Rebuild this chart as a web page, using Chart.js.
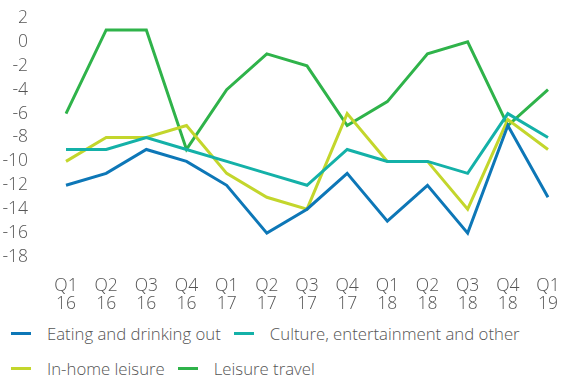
<!DOCTYPE html>
<html>
<head>
<meta charset="utf-8">
<script src="https://cdn.jsdelivr.net/npm/chart.js@4"></script>
<style>
  html, body { margin: 0; padding: 0; background: #fff; }
  #wrap { width: 568px; height: 380px; position: relative; }
  #chartBox { width: 568px; height: 315px; position: relative; }
  #legend { position: absolute; left: 11px; top: 316px; width: 557px;
    font-family: "Open Sans", sans-serif; font-weight: 300; font-size: 16.75px; color: #555; }
  .row { display: flex; height: 35px; align-items: center; white-space: nowrap; }
  .item { display: flex; align-items: center; margin-right: 13px; }
  .mark { width: 20px; height: 3px; margin-right: 16px; }
</style>
</head>
<body>
<div id="wrap">
  <div id="chartBox"><canvas id="myChart"></canvas></div>
  <div id="legend"></div>
</div>
<script>
// 四半期ラベル
const labels = [
    ['Q1', '16'], ['Q2', '16'], ['Q3', '16'], ['Q4', '16'],
    ['Q1', '17'], ['Q2', '17'], ['Q3', '17'], ['Q4', '17'],
    ['Q1', '18'], ['Q2', '18'], ['Q3', '18'], ['Q4', '18'],
    ['Q1', '19'],
];

// 各系列の値
const eatingOut = [-12, -11, -9, -10, -12, -16, -14, -11, -15, -12, -16, -7, -13];
const culture = [-9, -9, -8, -9, -10, -11, -12, -9, -10, -10, -11, -6, -8];
const inHome = [-10, -8, -8, -7, -11, -13, -14, -6, -10, -10, -14, -6.5, -9];
const leisureTravel = [-6, 1, 1, -9, -4, -1, -2, -7, -5, -1, 0, -7, -4];

// y軸の目盛り
const yTicks = [2, 0, -2, -4, -6, -8, -10, -12, -14, -16, -18];

function series(label, values, color) {
    return {
        label: label,
        data: values,
        borderColor: color,
        backgroundColor: color,
        borderWidth: 3,
        pointRadius: 0,
        tension: 0,
    };
}

const data = {
    labels: labels,
    datasets: [
        series('Eating and drinking out', eatingOut, '#0d77b7'),
        series('Culture, entertainment and other', culture, '#14b1a8'),
        series('In-home leisure', inHome, '#c3d62c'),
        series('Leisure travel', leisureTravel, '#2fb34a'),
    ]
};

const tickFont = { family: '"Open Sans", sans-serif', size: 17.5, weight: 300, lineHeight: 1.03 };

const config = {
    type: 'line',
    data: data,
    options: {
        responsive: true,
        maintainAspectRatio: false,
        animation: false,
        layout: { padding: { top: 18, right: 20, bottom: 0, left: 0 } },
        plugins: {
            legend: { display: false },
            tooltip: { enabled: false },
        },
        scales: {
            x: {
                offset: false,
                afterFit: (scale) => {
                    scale.height = 58;
                    scale.paddingLeft = 0;
                    scale.paddingRight = 0;
                },
                grid: { display: false },
                border: { display: false },
                ticks: { color: '#555', font: tickFont, padding: 12, maxRotation: 0, autoSkip: false },
            },
            y: {
                min: -18,
                max: 2,
                // 目盛りのpaddingが上下の余白に入らないようにする
                afterFit: (scale) => {
                    scale.width = 66;
                    scale.paddingTop = 0;
                    scale.paddingBottom = 0;
                },
                afterBuildTicks: (scale) => { scale.ticks = yTicks.map(v => ({ value: v })); },
                grid: { display: false },
                border: { display: false },
                ticks: { color: '#555', font: tickFont, padding: 30, autoSkip: false },
            }
        }
    }
};

const myChart = new Chart(document.getElementById('myChart'), config);

// 凡例(2行)
const legendRows = [[0, 1], [2, 3]];
const legendEl = document.getElementById('legend');
legendRows.forEach(row => {
    const rowEl = document.createElement('div');
    rowEl.className = 'row';
    row.forEach(i => {
        const ds = myChart.data.datasets[i];
        const item = document.createElement('div');
        item.className = 'item';
        const mark = document.createElement('span');
        mark.className = 'mark';
        mark.style.background = ds.borderColor;
        const text = document.createElement('span');
        text.textContent = ds.label;
        item.appendChild(mark);
        item.appendChild(text);
        rowEl.appendChild(item);
    });
    legendEl.appendChild(rowEl);
});
</script>
</body>
</html>
